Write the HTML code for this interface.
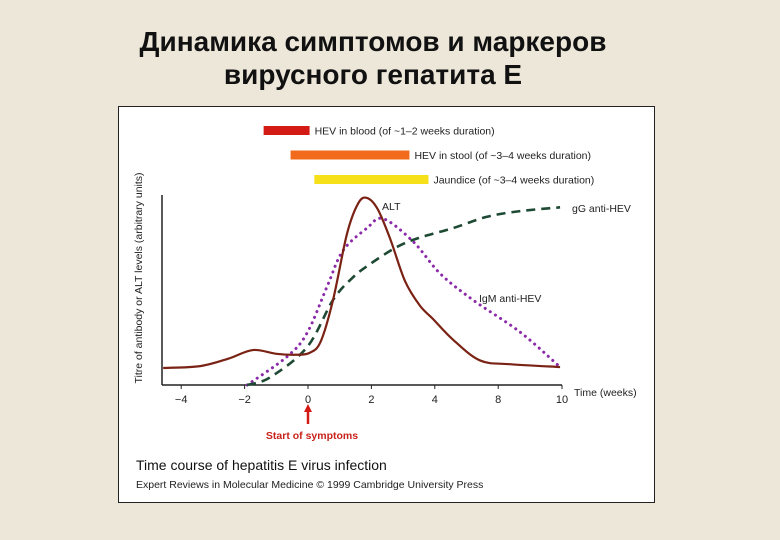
<!DOCTYPE html>
<html><head><meta charset="utf-8">
<style>
html,body{margin:0;padding:0}
body{width:780px;height:540px;background:#ede7da;position:relative;overflow:hidden;font-family:"Liberation Sans","Noto Sans CJK SC",sans-serif}
.t{position:absolute;left:0;width:746px;text-align:center;font-weight:bold;font-size:28px;color:#111}
#box{position:absolute;left:118px;top:106px;width:535px;height:395px;background:#fff;border:1.5px solid #222}
svg{position:absolute;left:0;top:0}
</style></head>
<body>
<div class="t" style="top:26px">Динамика симптомов и маркеров</div>
<div class="t" style="top:59px">вирусного гепатита Е</div>
<div id="box"></div>
<svg id="chart" width="780" height="540" font-family="Liberation Sans, sans-serif"></svg>
<script>
const tickWeeks=[-4,-2,0,2,4,8,10];
const tickLabels=["\u22124","\u22122","0","2","4","8","10"];
const barNames=["HEV in blood (of ~1\u20132 weeks duration)","HEV in stool (of ~3\u20134 weeks duration)","Jaundice (of ~3\u20134 weeks duration)"];
const barStart=[-1.4,-0.55,0.2];
const barEnd=[0.05,3.2,3.8];
const altWeeks=[-4.57,-3.4,-2.5,-1.74,-1.0,-0.4,0.05,0.4,0.79,1.23,1.58,1.86,2.2,2.6,3.06,3.53,3.94,5.14,6.85,8.375,9.94];
const altVals=[9,10,14,18.5,16.5,16,17,23,45,80,96,99,93,77,55,42,35,24,13,11,9.5];
const igmWeeks=[-1.92,-0.66,-0.03,0.6,1.1,1.86,2.37,3.31,4.32,6.4,8.69,9.94];
const igmVals=[0,15,27.5,52,71,83,88,76,59,45,28,9.5];
const iggWeeks=[-1.92,-1.2,-0.03,0.79,1.42,1.96,2.8,3.53,5.14,7.29,8.69,9.94];
const iggVals=[0,4,20,45,57,64,73,78,83,89,92,94];

function xs(w){ if(w<=4) return 308+31.7*w; if(w<=8) return 435+(w-4)*15.8; return 498+(w-8)*32; }
function ys(v){ return 385-v*1.89; }
const NS="http://www.w3.org/2000/svg";
const svg=document.getElementById('chart');
function mk(tag,attrs,parent){const e=document.createElementNS(NS,tag);for(const k in attrs)e.setAttribute(k,attrs[k]);(parent||svg).appendChild(e);return e;}
function smooth(ws,vs){
  const p=ws.map((w,i)=>[xs(w),ys(vs[i])]);
  let d="M"+p[0][0]+","+p[0][1];
  for(let i=0;i<p.length-1;i++){
    const p0=p[i-1]||p[i],p1=p[i],p2=p[i+1],p3=p[i+2]||p2;
    const c1=[p1[0]+(p2[0]-p0[0])/6,p1[1]+(p2[1]-p0[1])/6];
    const c2=[p2[0]-(p3[0]-p1[0])/6,p2[1]-(p3[1]-p1[1])/6];
    d+=" C"+c1[0]+","+c1[1]+" "+c2[0]+","+c2[1]+" "+p2[0]+","+p2[1];
  }
  return d;
}
const barColors=["#d41a14","#f26a1b","#f5e01a"];
for(let i=0;i<barNames.length;i++){
  const y=126+i*24.5;
  const r=mk('rect',{x:xs(barStart[i]),y:y,width:xs(barEnd[i])-xs(barStart[i]),height:9,fill:barColors[i]});
  
  
  const t=mk('text',{x:xs(barEnd[i])+5,y:y+8.5,'font-size':10.5,fill:'#222'});
  t.textContent=barNames[i];
  
  
}
const ya=mk('line',{x1:162,y1:195,x2:162,y2:385,stroke:'#222','stroke-width':1.5});


const xa=mk('line',{x1:162,y1:385,x2:xs(10),y2:385,stroke:'#222','stroke-width':1.5});


tickWeeks.forEach((w,i)=>{
  const tk=mk('line',{x1:xs(w),y1:385,x2:xs(w),y2:389,stroke:'#222','stroke-width':1});
  
  
  const t=mk('text',{x:xs(w),y:403,'font-size':11,'text-anchor':'middle',fill:'#222'});
  t.textContent=tickLabels[i];
  
  
});
const xt=mk('text',{x:574,y:396,'font-size':10.5,fill:'#222'});xt.textContent="Time (weeks)";


const yt=mk('text',{x:0,y:0,'font-size':10.5,fill:'#222','text-anchor':'middle',transform:'translate(142,278) rotate(-90)'});
yt.textContent="Titre of antibody or ALT levels (arbitrary units)";


const igm=mk('path',{d:smooth(igmWeeks,igmVals),fill:'none',stroke:'#8a2aa8','stroke-width':3,'stroke-dasharray':'0.1 6','stroke-linecap':'round'});


const igg=mk('path',{d:smooth(iggWeeks,iggVals),fill:'none',stroke:'#1e4a34','stroke-width':2.6,'stroke-dasharray':'9 6'});


const alt=mk('path',{d:smooth(altWeeks,altVals),fill:'none',stroke:'#7a2214','stroke-width':2.2});


const l1=mk('text',{x:382,y:210,'font-size':10.5,fill:'#222'});l1.textContent="ALT";


const l2=mk('text',{x:572,y:212,'font-size':10.5,fill:'#222'});l2.textContent="gG anti-HEV";


const l3=mk('text',{x:479,y:302,'font-size':10.5,fill:'#222'});l3.textContent="IgM anti-HEV";


const ar=mk('line',{x1:xs(0),y1:424,x2:xs(0),y2:411,stroke:'#d41a14','stroke-width':2.5});


const ah=mk('polygon',{points:(xs(0)-4)+",412 "+(xs(0)+4)+",412 "+xs(0)+",404",fill:'#d41a14'});


const st=mk('text',{x:xs(0)+4,y:439,'font-size':10.5,'font-weight':'bold',fill:'#c8231b','text-anchor':'middle'});st.textContent="Start of symptoms";


const cap=mk('text',{x:136,y:470,'font-size':14,fill:'#111'});cap.textContent="Time course of hepatitis E virus infection";


const src=mk('text',{x:136,y:488,'font-size':10.5,fill:'#222'});src.textContent="Expert Reviews in Molecular Medicine \u00a9 1999 Cambridge University Press";


</script>
</body></html>
